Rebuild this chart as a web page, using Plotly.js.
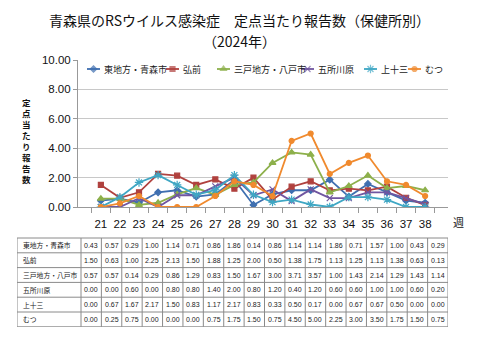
<!DOCTYPE html>
<html><head><meta charset="utf-8">
<script src="https://cdn.plot.ly/plotly-3.0.1.min.js"></script>
<style>body{margin:0;background:#fff}#c{width:480px;height:360px}</style>
</head><body><div id="c"></div>
<script>
const weeks = ["21","22","23","24","25","26","27","28","29","30","31","32","33","34","35","36","37","38"];
const names = ["東地方・青森市","弘前","三戸地方・八戸市","五所川原","上十三","むつ"];
const aomori = [0.43,0.57,0.29,1.00,1.14,0.71,0.86,1.86,0.14,0.86,1.14,1.14,1.86,0.71,1.57,1.00,0.43,0.29];
const hirosaki = [1.50,0.63,1.00,2.25,2.13,1.50,1.88,1.25,2.00,0.50,1.38,1.75,1.13,1.25,1.13,1.38,0.63,0.13];
const hachinohe = [0.57,0.57,0.14,0.29,0.86,1.29,0.83,1.50,1.67,3.00,3.71,3.57,1.00,1.43,2.14,1.29,1.43,1.14];
const goshogawara = [0.00,0.00,0.60,0.00,0.80,0.80,1.40,2.00,0.80,1.20,0.40,1.20,0.60,0.60,1.00,1.00,0.60,0.20];
const kamitosan = [0.00,0.67,1.67,2.17,1.50,0.83,1.17,2.17,0.83,0.33,0.50,0.17,0.00,0.67,0.67,0.50,0.00,0.00];
const mutsu = [0.00,0.25,0.75,0.00,0.00,0.00,0.75,1.75,1.50,0.75,4.50,5.00,2.25,3.00,3.50,1.75,1.50,0.75];
const yTicks = [0,2,4,6,8,10];

const series = [aomori,hirosaki,hachinohe,goshogawara,kamitosan,mutsu];
const colors = ["#3F6FB0","#B0413E","#8DB04B","#7056A0","#3FA7C4","#F08A2E"];
const symbols = ["diamond","square","triangle-up","x-thin-open","asterisk-open","circle"];
const sizes = [5,5,6,6,7,5];

const traces = series.map((s,i)=>({
  type:'scatter', mode:'lines+markers', name:names[i], x:weeks, y:s,
  line:{color:colors[i], width:1.8},
  marker:{symbol:symbols[i], size:sizes[i], color:colors[i], line:{color:colors[i], width:1.2}},
  xaxis:'x', yaxis:'y'
}));

const ann = [];
const shapes = [];

// custom compact legend (pixel layout via hidden overlay axes)
const legendX = [87,166,217,301,364,408];
const legendY = 69;
names.forEach((n,i)=>{
  const x0 = legendX[i];
  traces.push({type:'scatter', mode:'lines+markers', x:[x0, x0+6.5, x0+13], y:[legendY,legendY,legendY],
    xaxis:'x2', yaxis:'y2', showlegend:false,
    line:{color:colors[i], width:1.8},
    marker:{symbol:symbols[i], size:[0,sizes[i],0], color:colors[i], line:{color:colors[i], width:1.2}}});
  ann.push({text:n, xref:'x2', yref:'y2', x:x0+15, y:legendY, xanchor:'left', yanchor:'middle',
    showarrow:false, font:{family:'Noto Sans CJK JP', size:9, color:'#222'}});
});

// data table below the chart (pixel layout via hidden overlay axes)
const tL = 17, tC = 81, tR = 448, tT = 238, rowH = 14.8;
const colWd = (tR - tC) / weeks.length;
const tB = tT + rowH * series.length;
const lineSt = {color:'#8a8a8a', width:1};
for (let r=0; r<=series.length; r++)
  shapes.push({type:'line', xref:'x2', yref:'y2', x0:tL, x1:tR, y0:tT+r*rowH, y1:tT+r*rowH, line:lineSt});
shapes.push({type:'line', xref:'x2', yref:'y2', x0:tL, x1:tL, y0:tT, y1:tB, line:lineSt});
for (let c=0; c<=weeks.length; c++)
  shapes.push({type:'line', xref:'x2', yref:'y2', x0:tC+c*colWd, x1:tC+c*colWd, y0:tT, y1:tB, line:lineSt});
series.forEach((s,r)=>{
  const yc = tT + (r+0.5)*rowH;
  ann.push({text:names[r], xref:'x2', yref:'y2', x:tL+4, y:yc, xanchor:'left', yanchor:'middle',
    showarrow:false, font:{family:'Noto Sans CJK JP', size:6.8, color:'#222'}});
  s.forEach((v,c)=>{
    ann.push({text:v.toFixed(2), xref:'x2', yref:'y2', x:tC+(c+0.5)*colWd, y:yc, xanchor:'center', yanchor:'middle',
      showarrow:false, font:{family:'Liberation Sans', size:7, color:'#222'}});
  });
});

const layout = {
  width:480, height:360,
  margin:{l:17, r:32, t:60, b:33},
  paper_bgcolor:'#fff', plot_bgcolor:'rgba(0,0,0,0)',
  showlegend:false,
  xaxis:{domain:[0.1415,1], type:'category', tickson:'boundaries', ticks:'outside', ticklen:5,
    tickangle:0, ticklabelstandoff:6, tickcolor:'#999', showline:true, linecolor:'#999', showgrid:false, fixedrange:true,
    tickfont:{family:'Liberation Sans', size:11.5, color:'#111'}},
  yaxis:{domain:[0.4494,1], range:[0,10], tickvals:yTicks, tickformat:'.2f', ticks:'outside',
    ticklen:4, tickcolor:'#999', showline:true, linecolor:'#999', gridcolor:'#C8C8C8',
    zeroline:false, tickfont:{family:'Liberation Sans', size:11.5, color:'#111'}},
  xaxis2:{domain:[0,1], range:[17,448], visible:false, anchor:'y2', fixedrange:true},
  yaxis2:{domain:[0,1], range:[327,60], visible:false, anchor:'x2', fixedrange:true},
  shapes: shapes,
  annotations:[
    {text:'青森県のRSウイルス感染症　定点当たり報告数（保健所別）', xref:'paper', yref:'paper',
      x:0.517, y:1, yshift:40, xanchor:'center', yanchor:'middle', showarrow:false,
      font:{family:'Noto Sans CJK JP', size:14, color:'#111'}},
    {text:'（2024年）', xref:'paper', yref:'paper',
      x:0.517, y:1, yshift:19, xanchor:'center', yanchor:'middle', showarrow:false,
      font:{family:'Noto Sans CJK JP', size:14, color:'#111'}},
    {text:'定<br>点<br>当<br>た<br>り<br>報<br>告<br>数', xref:'paper', yref:'paper',
      x:0.023, xanchor:'center', y:0.700, yanchor:'middle', showarrow:false,
      font:{family:'Noto Sans CJK JP', size:8.5, color:'#111', weight:'bold'}},
    {text:'週', xref:'paper', yref:'paper', x:1.0, xshift:10, xanchor:'center',
      y:0.4494, yshift:-15, yanchor:'middle', showarrow:false,
      font:{family:'Noto Sans CJK JP', size:11, color:'#111'}}
  ].concat(ann)
};
Plotly.newPlot('c', traces, layout, {displayModeBar:false, staticPlot:true});
</script></body></html>
